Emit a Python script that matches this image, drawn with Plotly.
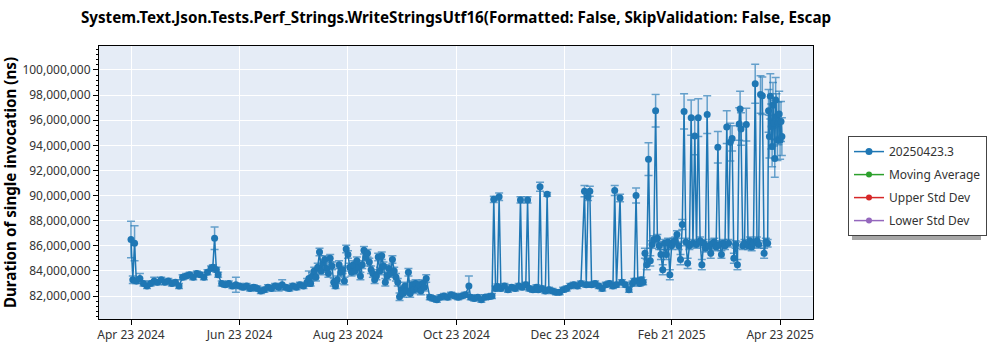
import plotly.graph_objects as go

# Benchmark run dates (one entry per measured run)
run_dates = [
    # Apr 2024
    "2024-04-23", "2024-04-24", "2024-04-25", "2024-04-26", "2024-04-28", "2024-04-30",
    # May 2024
    "2024-05-02", "2024-05-04", "2024-05-06", "2024-05-08", "2024-05-10", "2024-05-12", "2024-05-14",
    "2024-05-16", "2024-05-18", "2024-05-20", "2024-05-22", "2024-05-24", "2024-05-26", "2024-05-28",
    "2024-05-30",
    # Jun 2024
    "2024-06-01", "2024-06-03", "2024-06-05", "2024-06-07", "2024-06-08", "2024-06-09", "2024-06-10",
    "2024-06-11", "2024-06-13", "2024-06-15", "2024-06-17", "2024-06-19", "2024-06-21", "2024-06-23",
    "2024-06-25", "2024-06-27", "2024-06-29",
    # Jul 2024
    "2024-07-01", "2024-07-03", "2024-07-05", "2024-07-07", "2024-07-09", "2024-07-11", "2024-07-13",
    "2024-07-15", "2024-07-17", "2024-07-19", "2024-07-21", "2024-07-23", "2024-07-25", "2024-07-27",
    "2024-07-29", "2024-07-31",
    # Aug 2024
    "2024-08-01", "2024-08-02", "2024-08-03", "2024-08-04", "2024-08-05", "2024-08-06", "2024-08-07",
    "2024-08-08", "2024-08-09", "2024-08-10", "2024-08-11", "2024-08-12", "2024-08-13", "2024-08-14",
    "2024-08-15", "2024-08-16", "2024-08-17", "2024-08-18", "2024-08-19", "2024-08-20", "2024-08-21",
    "2024-08-22", "2024-08-23", "2024-08-24", "2024-08-25", "2024-08-26", "2024-08-27", "2024-08-28",
    "2024-08-29", "2024-08-30", "2024-08-31",
    # Sep 2024
    "2024-09-01", "2024-09-02", "2024-09-03", "2024-09-04", "2024-09-05", "2024-09-06", "2024-09-07",
    "2024-09-08", "2024-09-09", "2024-09-10", "2024-09-11", "2024-09-12", "2024-09-13", "2024-09-14",
    "2024-09-15", "2024-09-16", "2024-09-17", "2024-09-18", "2024-09-19", "2024-09-20", "2024-09-21",
    "2024-09-22", "2024-09-23", "2024-09-24", "2024-09-25", "2024-09-26", "2024-09-27", "2024-09-28",
    "2024-09-29", "2024-09-30",
    # Oct 2024
    "2024-10-01", "2024-10-02", "2024-10-03", "2024-10-04", "2024-10-05", "2024-10-06", "2024-10-08",
    "2024-10-10", "2024-10-12", "2024-10-14", "2024-10-16", "2024-10-18", "2024-10-20", "2024-10-22",
    "2024-10-24", "2024-10-26", "2024-10-28", "2024-10-30", "2024-10-31",
    # Nov 2024
    "2024-11-02", "2024-11-04", "2024-11-06", "2024-11-08", "2024-11-10", "2024-11-12", "2024-11-13",
    "2024-11-14", "2024-11-15", "2024-11-16", "2024-11-17", "2024-11-19", "2024-11-21", "2024-11-23",
    "2024-11-25", "2024-11-27", "2024-11-28", "2024-11-29",
    # Dec 2024
    "2024-12-01", "2024-12-02", "2024-12-03", "2024-12-05", "2024-12-07", "2024-12-08", "2024-12-09",
    "2024-12-10", "2024-12-12", "2024-12-13", "2024-12-14", "2024-12-16", "2024-12-18", "2024-12-20",
    "2024-12-22", "2024-12-24", "2024-12-26", "2024-12-28", "2024-12-30",
    # Jan 2025
    "2025-01-01", "2025-01-03", "2025-01-04", "2025-01-05", "2025-01-06", "2025-01-07", "2025-01-09",
    "2025-01-11", "2025-01-13", "2025-01-15", "2025-01-17", "2025-01-19", "2025-01-20", "2025-01-21",
    "2025-01-23", "2025-01-24", "2025-01-26", "2025-01-28", "2025-01-30", "2025-01-31",
    # Feb 2025
    "2025-02-01", "2025-02-02", "2025-02-03", "2025-02-04", "2025-02-05", "2025-02-06", "2025-02-07",
    "2025-02-08", "2025-02-09", "2025-02-10", "2025-02-11", "2025-02-12", "2025-02-13", "2025-02-14",
    "2025-02-15", "2025-02-16", "2025-02-17", "2025-02-18", "2025-02-19", "2025-02-20", "2025-02-21",
    "2025-02-22", "2025-02-23", "2025-02-24", "2025-02-25", "2025-02-26", "2025-02-27", "2025-02-28",
    # Mar 2025
    "2025-03-01", "2025-03-02", "2025-03-03", "2025-03-04", "2025-03-05", "2025-03-06", "2025-03-07",
    "2025-03-08", "2025-03-09", "2025-03-10", "2025-03-11", "2025-03-12", "2025-03-13", "2025-03-14",
    "2025-03-15", "2025-03-16", "2025-03-17", "2025-03-18", "2025-03-19", "2025-03-20", "2025-03-21",
    "2025-03-22", "2025-03-23", "2025-03-24", "2025-03-25", "2025-03-26", "2025-03-27", "2025-03-28",
    "2025-03-29", "2025-03-30", "2025-03-31", "2025-03-31 12:00",
    # Apr 2025
    "2025-04-01", "2025-04-02", "2025-04-03", "2025-04-04", "2025-04-05", "2025-04-06", "2025-04-07",
    "2025-04-08", "2025-04-09", "2025-04-10", "2025-04-11", "2025-04-12", "2025-04-13", "2025-04-14",
    "2025-04-15", "2025-04-16", "2025-04-16 12:00", "2025-04-17", "2025-04-17 12:00", "2025-04-18",
    "2025-04-18 12:00", "2025-04-19", "2025-04-19 12:00", "2025-04-20", "2025-04-20 12:00",
    "2025-04-21", "2025-04-21 12:00", "2025-04-22", "2025-04-22 12:00", "2025-04-23",
    "2025-04-23 12:00", "2025-04-24",
]

# Mean duration of a single invocation, in milliseconds
duration_ms = [
    # Apr 2024
    86.5, 83.3, 86.2, 83.2, 83.4, 83.0,
    # May 2024
    82.8, 83.0, 83.2, 83.1, 83.3, 83.1, 83.2,
    83.0, 83.1, 82.8, 83.5, 83.6, 83.7, 83.5,
    83.8,
    # Jun 2024
    83.7, 83.5, 83.9, 84.2, 84.3, 86.6, 84.1,
    83.7, 83.0, 82.9, 83.0, 82.8, 82.9, 82.8,
    82.7, 82.8, 82.6,
    # Jul 2024
    82.7, 82.6, 82.4, 82.5, 82.7, 82.6, 82.8,
    82.7, 82.9, 82.7, 82.6, 82.8, 82.7, 82.9,
    82.8, 83.1,
    # Aug 2024
    83.4, 83.0, 83.6, 84.0, 83.5, 84.3, 85.5,
    84.0, 84.6, 84.9, 84.2, 83.8, 85.0, 84.4,
    83.1, 82.8, 83.3, 84.5, 83.9, 84.1, 83.2,
    85.75, 85.3, 84.3, 83.9, 84.5, 84.0, 84.8,
    84.3, 83.6, 84.5,
    # Sep 2024
    85.65, 85.1, 85.4, 84.7, 84.1, 83.8, 83.3,
    83.6, 85.1, 84.0, 85.2, 84.4, 83.1, 83.6,
    84.2, 83.8, 84.9, 84.0, 83.5, 83.1, 81.95,
    82.5, 82.2, 82.8, 82.4, 83.9, 82.2, 82.9,
    82.5, 83.0,
    # Oct 2024
    82.6, 82.9, 82.4, 83.0, 82.7, 83.4, 81.9,
    81.8, 81.7, 81.9, 82.0, 81.9, 82.1, 82.0,
    81.9, 82.0, 82.1, 82.8, 81.9,
    # Nov 2024
    81.8, 81.9, 81.7, 81.9, 81.95, 82.0, 89.7,
    82.6, 82.75, 89.9, 82.6, 82.8, 82.5, 82.7,
    82.6, 82.8, 89.65, 82.7,
    # Dec 2024
    82.9, 89.65, 82.6, 82.5, 82.7, 82.5, 90.7,
    82.6, 82.4, 90.1, 82.5, 82.4, 82.3, 82.3,
    82.5, 82.6, 82.8, 82.9, 82.8,
    # Jan 2025
    83.0, 90.35, 82.9, 89.9, 90.35, 82.9, 83.0,
    82.8, 82.6, 82.9, 83.0, 82.8, 90.4, 82.9,
    89.8, 83.1, 82.9, 82.5, 83.0, 83.2,
    # Feb 2025
    90.0, 83.2, 83.0, 83.3, 83.1, 85.4, 84.5,
    92.9, 84.8, 86.1, 86.5, 96.75, 86.6, 86.0,
    85.3, 84.1, 86.2, 85.3, 86.3, 83.7, 86.0,
    86.3, 86.4, 86.9, 86.0, 84.9, 87.7, 96.7,
    # Mar 2025
    86.3, 84.6, 86.0, 96.2, 86.2, 94.75, 86.1,
    96.2, 86.4, 84.5, 86.2, 85.8, 96.45, 86.0,
    85.4, 86.2, 86.3, 85.9, 93.85, 86.1, 85.3,
    86.2, 86.0, 95.45, 86.2, 94.25, 94.55, 85.0,
    86.1, 84.5, 95.7, 96.9,
    # Apr 2025
    95.3, 86.0, 86.2, 95.65, 86.0, 86.4, 85.9,
    86.2, 98.9, 86.4, 86.1, 98.05, 97.95, 85.4,
    86.3, 86.2, 96.75, 94.7, 97.9, 95.5,
    93.9, 97.2, 95.75, 92.95, 97.6,
    96.3, 94.4, 95.75, 96.5, 94.4,
    95.9, 94.7,
]

# Standard deviation of each run, in milliseconds
error_ms = [
    # Apr 2024
    1.45, 0.3, 1.4, 0.2, 0.4, 0.2,
    # May 2024
    0.2, 0.2, 0.3, 0.2, 0.2, 0.2, 0.2,
    0.2, 0.2, 0.2, 0.2, 0.2, 0.2, 0.2,
    0.2,
    # Jun 2024
    0.2, 0.2, 0.2, 0.2, 0.2, 0.9, 0.2,
    0.2, 0.2, 0.2, 0.2, 0.2, 0.6, 0.2,
    0.2, 0.2, 0.2,
    # Jul 2024
    0.2, 0.2, 0.2, 0.2, 0.2, 0.2, 0.2,
    0.3, 0.4, 0.2, 0.2, 0.2, 0.2, 0.2,
    0.2, 0.3,
    # Aug 2024
    0.6, 0.2, 0.3, 0.3, 0.3, 0.3, 0.3,
    0.3, 0.3, 0.3, 0.3, 0.3, 0.3, 0.3,
    0.3, 0.2, 0.3, 0.3, 0.3, 0.3, 0.3,
    0.3, 0.3, 0.3, 0.3, 0.3, 0.3, 0.3,
    0.3, 0.3, 0.3,
    # Sep 2024
    0.3, 0.3, 0.3, 0.3, 0.3, 0.3, 0.3,
    0.3, 0.3, 0.3, 0.3, 0.3, 0.3, 0.3,
    0.3, 0.3, 0.3, 0.3, 0.3, 0.3, 0.3,
    0.3, 0.3, 0.3, 0.3, 0.3, 0.3, 0.3,
    0.3, 0.3,
    # Oct 2024
    0.3, 0.3, 0.3, 0.3, 0.3, 0.3, 0.2,
    0.2, 0.2, 0.2, 0.2, 0.2, 0.2, 0.2,
    0.2, 0.2, 0.2, 0.8, 0.2,
    # Nov 2024
    0.2, 0.2, 0.2, 0.2, 0.2, 0.2, 0.25,
    0.2, 0.2, 0.3, 0.2, 0.2, 0.2, 0.2,
    0.2, 0.2, 0.25, 0.2,
    # Dec 2024
    0.2, 0.25, 0.2, 0.2, 0.2, 0.2, 0.35,
    0.2, 0.2, 0.15, 0.2, 0.2, 0.2, 0.2,
    0.2, 0.2, 0.2, 0.2, 0.2,
    # Jan 2025
    0.2, 0.45, 0.2, 0.3, 0.4, 0.2, 0.2,
    0.2, 0.2, 0.2, 0.2, 0.2, 0.4, 0.2,
    0.3, 0.2, 0.2, 0.2, 0.2, 0.2,
    # Feb 2025
    0.6, 0.2, 0.2, 0.2, 0.2, 0.4, 0.4,
    1.3, 0.4, 0.3, 0.3, 1.3, 0.3, 0.3,
    0.4, 0.4, 0.3, 0.4, 0.3, 0.4, 0.3,
    0.3, 0.3, 0.3, 0.3, 0.4, 0.4, 1.4,
    # Mar 2025
    0.3, 0.4, 0.3, 1.4, 0.3, 1.5, 0.3,
    1.5, 0.3, 0.4, 0.3, 0.3, 1.5, 0.3,
    0.4, 0.3, 0.3, 0.3, 1.25, 0.3, 0.3,
    0.3, 0.3, 1.3, 0.3, 1.5, 1.0, 0.4,
    0.3, 0.4, 1.3, 1.4,
    # Apr 2025
    1.3, 0.3, 0.3, 1.3, 0.3, 0.3, 0.3,
    0.3, 1.55, 0.3, 0.3, 1.5, 1.5, 0.4,
    0.3, 0.3, 1.7, 1.7, 1.8, 1.8,
    1.6, 1.8, 1.8, 1.5, 1.8,
    1.8, 1.6, 1.7, 1.8, 1.5,
    1.6, 1.5,
]

series_names = ["20250423.3", "Moving Average", "Upper Std Dev", "Lower Std Dev"]
series_colors = ["#1f77b4", "#2ca02c", "#d62728", "#9467bd"]

x_tick_dates = ["2024-04-23", "2024-06-23", "2024-08-23", "2024-10-23",
                "2024-12-23", "2025-02-21", "2025-04-23"]
y_tick_values_ms = [82, 84, 86, 88, 90, 92, 94, 96, 98, 100]

chart_title = ("System.Text.Json.Tests.Perf_Strings.WriteStringsUtf16"
               "(Formatted: False, SkipValidation: False, Escap")
y_title = "Duration of single invocation (ns)"

NS_PER_MS = 1_000_000
duration_ns = [v * NS_PER_MS for v in duration_ms]
error_ns = [e * NS_PER_MS for e in error_ms]
y_tick_values = [v * NS_PER_MS for v in y_tick_values_ms]

FONT = "Noto Sans"

fig = go.Figure()

fig.add_trace(go.Scatter(
    x=run_dates,
    y=duration_ns,
    name=series_names[0],
    legendgroup="g0",
    mode="lines+markers",
    line=dict(color=series_colors[0], width=1.5),
    marker=dict(color=series_colors[0], size=7),
    error_y=dict(type="data", array=error_ns, visible=True,
                 color="rgba(31,119,180,0.65)", thickness=1.5, width=4),
))

# Statistical overlays: listed in the legend, no points in this window
for i in range(1, 4):
    fig.add_trace(go.Scatter(
        x=[None], y=[None],
        name=series_names[i],
        legendgroup="g%d" % i,
        mode="lines+markers",
        line=dict(color=series_colors[i], width=1.5),
        marker=dict(color=series_colors[i], size=6),
    ))

# Legend drop shadow (paper coordinates, offset right of / below the legend box)
fig.add_shape(type="rect", xref="paper", yref="paper",
              x0=1.0546, x1=1.2353, y0=0.2894, y1=0.6667,
              fillcolor="rgba(0,0,0,0.35)", line=dict(width=0), layer="above")

fig.update_layout(
    width=1000, height=350, autosize=False,
    margin=dict(l=99, r=187, t=46, b=31, autoexpand=False),
    paper_bgcolor="white",
    plot_bgcolor="#E5ECF6",
    font=dict(family=FONT, size=12, color="#333"),
    title=dict(text="<b>%s</b>" % chart_title, x=0.5, xref="paper", xanchor="center",
               y=1 - 18 / 350, yref="container", yanchor="middle",
               font=dict(family=FONT, size=15.2, color="black")),
    showlegend=True,
    legend=dict(x=1.049, y=0.670, xanchor="left", yanchor="top",
                bgcolor="white", bordercolor="#444", borderwidth=1,
                font=dict(family=FONT, size=12, color="#333"),
                traceorder="grouped", tracegroupgap=4),
    xaxis=dict(
        type="date",
        automargin=False,
        range=["2024-04-05", "2025-05-11 12:00"],
        tickvals=x_tick_dates,
        tickformat="%b %d %Y",
        ticks="outside", ticklen=5, tickcolor="black",
        showline=True, linecolor="black", linewidth=1, mirror=True,
        showgrid=True, gridcolor="white", gridwidth=1,
        zeroline=False,
        tickfont=dict(family=FONT, size=12, color="#333"),
    ),
    yaxis=dict(
        automargin=False,
        range=[80.17e6, 101.91e6],
        tickvals=y_tick_values,
        tickformat=",d",
        ticks="outside", ticklen=5, tickcolor="black",
        showline=True, linecolor="black", linewidth=1, mirror=True,
        showgrid=True, gridcolor="white", gridwidth=1,
        zeroline=False,
        minor=dict(dtick=400000, ticks="outside", ticklen=2, tickcolor="black", showgrid=False),
        tickfont=dict(family=FONT, size=12, color="#333"),
        title=dict(text="<b>%s</b>" % y_title, standoff=5,
                   font=dict(family=FONT, size=15.2, color="black")),
    ),
)

fig.write_html("out.html")
